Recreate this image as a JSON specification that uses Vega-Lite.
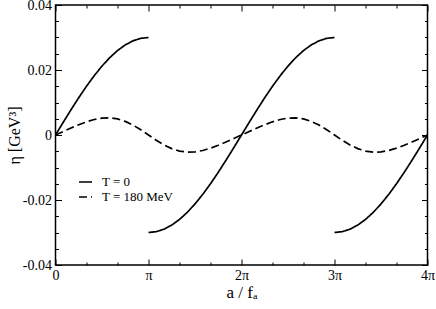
{
  "$schema": "https://vega.github.io/schema/vega-lite/v6.json",
  "width": 372,
  "height": 260,
  "autosize": {"type": "none"},
  "padding": {"left": 55.5, "top": 5, "right": 8, "bottom": 44},
  "background": "white",
  "config": {
    "view": {"stroke": "black", "strokeWidth": 1.5},
    "font": "Liberation Serif, Times New Roman, serif",
    "axis": {"grid": false, "domain": false, "tickColor": "black", "tickWidth": 1, "labelColor": "black", "titleColor": "black", "labelFont": "Liberation Serif, Times New Roman, serif", "titleFont": "Liberation Serif, Times New Roman, serif", "titleFontWeight": "normal", "labelOverlap": false, "labelFlush": false, "labelBound": false},
    "legend": {"labelFont": "Liberation Serif, Times New Roman, serif"}
  },
  "data": {"values": [
    {"x": 0, "y": 0, "s": "T = 0", "g": "a"},
    {"x": 0.083333, "y": 0.003916, "s": "T = 0", "g": "a"},
    {"x": 0.166667, "y": 0.007765, "s": "T = 0", "g": "a"},
    {"x": 0.25, "y": 0.01148, "s": "T = 0", "g": "a"},
    {"x": 0.333333, "y": 0.015, "s": "T = 0", "g": "a"},
    {"x": 0.416667, "y": 0.018263, "s": "T = 0", "g": "a"},
    {"x": 0.5, "y": 0.021213, "s": "T = 0", "g": "a"},
    {"x": 0.583333, "y": 0.023801, "s": "T = 0", "g": "a"},
    {"x": 0.666667, "y": 0.025981, "s": "T = 0", "g": "a"},
    {"x": 0.75, "y": 0.027716, "s": "T = 0", "g": "a"},
    {"x": 0.833333, "y": 0.028978, "s": "T = 0", "g": "a"},
    {"x": 0.916667, "y": 0.029743, "s": "T = 0", "g": "a"},
    {"x": 1, "y": 0.03, "s": "T = 0", "g": "a"},
    {"x": 1, "y": -0.03, "s": "T = 0", "g": "b"},
    {"x": 1.083333, "y": -0.029743, "s": "T = 0", "g": "b"},
    {"x": 1.166667, "y": -0.028978, "s": "T = 0", "g": "b"},
    {"x": 1.25, "y": -0.027716, "s": "T = 0", "g": "b"},
    {"x": 1.333333, "y": -0.025981, "s": "T = 0", "g": "b"},
    {"x": 1.416667, "y": -0.023801, "s": "T = 0", "g": "b"},
    {"x": 1.5, "y": -0.021213, "s": "T = 0", "g": "b"},
    {"x": 1.583333, "y": -0.018263, "s": "T = 0", "g": "b"},
    {"x": 1.666667, "y": -0.015, "s": "T = 0", "g": "b"},
    {"x": 1.75, "y": -0.01148, "s": "T = 0", "g": "b"},
    {"x": 1.833333, "y": -0.007765, "s": "T = 0", "g": "b"},
    {"x": 1.916667, "y": -0.003916, "s": "T = 0", "g": "b"},
    {"x": 2, "y": 0, "s": "T = 0", "g": "b"},
    {"x": 2.083333, "y": 0.003916, "s": "T = 0", "g": "b"},
    {"x": 2.166667, "y": 0.007765, "s": "T = 0", "g": "b"},
    {"x": 2.25, "y": 0.01148, "s": "T = 0", "g": "b"},
    {"x": 2.333333, "y": 0.015, "s": "T = 0", "g": "b"},
    {"x": 2.416667, "y": 0.018263, "s": "T = 0", "g": "b"},
    {"x": 2.5, "y": 0.021213, "s": "T = 0", "g": "b"},
    {"x": 2.583333, "y": 0.023801, "s": "T = 0", "g": "b"},
    {"x": 2.666667, "y": 0.025981, "s": "T = 0", "g": "b"},
    {"x": 2.75, "y": 0.027716, "s": "T = 0", "g": "b"},
    {"x": 2.833333, "y": 0.028978, "s": "T = 0", "g": "b"},
    {"x": 2.916667, "y": 0.029743, "s": "T = 0", "g": "b"},
    {"x": 3, "y": 0.03, "s": "T = 0", "g": "b"},
    {"x": 3, "y": -0.03, "s": "T = 0", "g": "c"},
    {"x": 3.083333, "y": -0.029743, "s": "T = 0", "g": "c"},
    {"x": 3.166667, "y": -0.028978, "s": "T = 0", "g": "c"},
    {"x": 3.25, "y": -0.027716, "s": "T = 0", "g": "c"},
    {"x": 3.333333, "y": -0.025981, "s": "T = 0", "g": "c"},
    {"x": 3.416667, "y": -0.023801, "s": "T = 0", "g": "c"},
    {"x": 3.5, "y": -0.021213, "s": "T = 0", "g": "c"},
    {"x": 3.583333, "y": -0.018263, "s": "T = 0", "g": "c"},
    {"x": 3.666667, "y": -0.015, "s": "T = 0", "g": "c"},
    {"x": 3.75, "y": -0.01148, "s": "T = 0", "g": "c"},
    {"x": 3.833333, "y": -0.007765, "s": "T = 0", "g": "c"},
    {"x": 3.916667, "y": -0.003916, "s": "T = 0", "g": "c"},
    {"x": 4, "y": 0, "s": "T = 0", "g": "c"},
    {"x": 0, "y": 0, "s": "T = 180 MeV", "g": "d"},
    {"x": 0.083333, "y": 0.001086, "s": "T = 180 MeV", "g": "d"},
    {"x": 0.166667, "y": 0.00215, "s": "T = 180 MeV", "g": "d"},
    {"x": 0.25, "y": 0.003157, "s": "T = 180 MeV", "g": "d"},
    {"x": 0.333333, "y": 0.004053, "s": "T = 180 MeV", "g": "d"},
    {"x": 0.416667, "y": 0.004763, "s": "T = 180 MeV", "g": "d"},
    {"x": 0.5, "y": 0.0052, "s": "T = 180 MeV", "g": "d"},
    {"x": 0.583333, "y": 0.005283, "s": "T = 180 MeV", "g": "d"},
    {"x": 0.666667, "y": 0.004954, "s": "T = 180 MeV", "g": "d"},
    {"x": 0.75, "y": 0.004197, "s": "T = 180 MeV", "g": "d"},
    {"x": 0.833333, "y": 0.00305, "s": "T = 180 MeV", "g": "d"},
    {"x": 0.916667, "y": 0.001606, "s": "T = 180 MeV", "g": "d"},
    {"x": 1, "y": 0, "s": "T = 180 MeV", "g": "d"},
    {"x": 1.083333, "y": -0.001606, "s": "T = 180 MeV", "g": "d"},
    {"x": 1.166667, "y": -0.00305, "s": "T = 180 MeV", "g": "d"},
    {"x": 1.25, "y": -0.004197, "s": "T = 180 MeV", "g": "d"},
    {"x": 1.333333, "y": -0.004954, "s": "T = 180 MeV", "g": "d"},
    {"x": 1.416667, "y": -0.005283, "s": "T = 180 MeV", "g": "d"},
    {"x": 1.5, "y": -0.0052, "s": "T = 180 MeV", "g": "d"},
    {"x": 1.583333, "y": -0.004763, "s": "T = 180 MeV", "g": "d"},
    {"x": 1.666667, "y": -0.004053, "s": "T = 180 MeV", "g": "d"},
    {"x": 1.75, "y": -0.003157, "s": "T = 180 MeV", "g": "d"},
    {"x": 1.833333, "y": -0.00215, "s": "T = 180 MeV", "g": "d"},
    {"x": 1.916667, "y": -0.001086, "s": "T = 180 MeV", "g": "d"},
    {"x": 2, "y": 0, "s": "T = 180 MeV", "g": "d"},
    {"x": 2.083333, "y": 0.001086, "s": "T = 180 MeV", "g": "d"},
    {"x": 2.166667, "y": 0.00215, "s": "T = 180 MeV", "g": "d"},
    {"x": 2.25, "y": 0.003157, "s": "T = 180 MeV", "g": "d"},
    {"x": 2.333333, "y": 0.004053, "s": "T = 180 MeV", "g": "d"},
    {"x": 2.416667, "y": 0.004763, "s": "T = 180 MeV", "g": "d"},
    {"x": 2.5, "y": 0.0052, "s": "T = 180 MeV", "g": "d"},
    {"x": 2.583333, "y": 0.005283, "s": "T = 180 MeV", "g": "d"},
    {"x": 2.666667, "y": 0.004954, "s": "T = 180 MeV", "g": "d"},
    {"x": 2.75, "y": 0.004197, "s": "T = 180 MeV", "g": "d"},
    {"x": 2.833333, "y": 0.00305, "s": "T = 180 MeV", "g": "d"},
    {"x": 2.916667, "y": 0.001606, "s": "T = 180 MeV", "g": "d"},
    {"x": 3, "y": 0, "s": "T = 180 MeV", "g": "d"},
    {"x": 3.083333, "y": -0.001606, "s": "T = 180 MeV", "g": "d"},
    {"x": 3.166667, "y": -0.00305, "s": "T = 180 MeV", "g": "d"},
    {"x": 3.25, "y": -0.004197, "s": "T = 180 MeV", "g": "d"},
    {"x": 3.333333, "y": -0.004954, "s": "T = 180 MeV", "g": "d"},
    {"x": 3.416667, "y": -0.005283, "s": "T = 180 MeV", "g": "d"},
    {"x": 3.5, "y": -0.0052, "s": "T = 180 MeV", "g": "d"},
    {"x": 3.583333, "y": -0.004763, "s": "T = 180 MeV", "g": "d"},
    {"x": 3.666667, "y": -0.004053, "s": "T = 180 MeV", "g": "d"},
    {"x": 3.75, "y": -0.003157, "s": "T = 180 MeV", "g": "d"},
    {"x": 3.833333, "y": -0.00215, "s": "T = 180 MeV", "g": "d"},
    {"x": 3.916667, "y": -0.001086, "s": "T = 180 MeV", "g": "d"},
    {"x": 4, "y": 0, "s": "T = 180 MeV", "g": "d"}
  ]},
  "layer": [
    {
      "mark": {"type": "line", "color": "black", "strokeWidth": 1.7, "clip": true},
      "encoding": {
        "x": {"field": "x", "type": "quantitative", "scale": {"domain": [0, 4], "nice": false, "zero": false},
          "axis": {"orient": "bottom", "values": [0, 0.333333, 0.666667, 1, 1.333333, 1.666667, 2, 2.333333, 2.666667, 3, 3.333333, 3.666667, 4],
            "labelExpr": "abs(datum.value-round(datum.value))<0.01 ? (round(datum.value)==0 ? '0' : (round(datum.value)==1 ? 'π' : round(datum.value)+'π')) : ''",
            "tickSize": {"condition": {"test": "abs(datum.value-round(datum.value))<0.01", "value": -6}, "value": -3},
            "labelFont": "Liberation Serif, Times New Roman, serif", "labelFontSize": 14, "labelPadding": 9, "title": "a / fₐ", "titleFont": "Liberation Serif, Times New Roman, serif", "titleFontSize": 17, "titleY": 32, "titleBaseline": "alphabetic"}},
        "y": {"field": "y", "type": "quantitative", "scale": {"domain": [-0.04, 0.04], "nice": false, "zero": false},
          "axis": {"orient": "left", "values": [-0.04, -0.035, -0.03, -0.025, -0.02, -0.015, -0.01, -0.005, 0, 0.005, 0.01, 0.015, 0.02, 0.025, 0.03, 0.035, 0.04],
            "labelExpr": "abs(datum.value*50-round(datum.value*50))<0.01 ? (abs(datum.value)<1e-9 ? '0' : (datum.value<0 ? '-' : '') + format(abs(datum.value), '.2f')) : ''",
            "tickSize": {"condition": {"test": "abs(datum.value*50-round(datum.value*50))<0.01", "value": -6}, "value": -3},
            "labelFont": "Liberation Serif, Times New Roman, serif", "labelFontSize": 14, "labelPadding": 10, "title": "η [GeV³]", "titleFont": "Liberation Serif, Times New Roman, serif", "titleFontSize": 16, "titleX": -41, "titleBaseline": "middle"}},
        "strokeDash": {"field": "s", "type": "nominal", "scale": {"domain": ["T = 0", "T = 180 MeV"], "range": [[1, 0], [8, 4]]},
          "legend": {"title": null, "orient": "none", "legendX": 22.5, "legendY": 169.5, "symbolType": "stroke", "symbolStrokeWidth": 1.7, "symbolSize": 169, "symbolStrokeColor": "black", "labelFontSize": 13, "labelFont": "Liberation Serif, Times New Roman, serif", "labelColor": "black", "rowPadding": 0, "labelOffset": 9, "padding": 0}},
        "detail": {"field": "g"}
      }
    },
    {
      "mark": {"type": "point", "opacity": 0},
      "encoding": {
        "x": {"field": "x", "type": "quantitative",
          "axis": {"orient": "top", "values": [0, 0.333333, 0.666667, 1, 1.333333, 1.666667, 2, 2.333333, 2.666667, 3, 3.333333, 3.666667, 4], "labels": false, "title": null,
            "tickSize": {"condition": {"test": "abs(datum.value-round(datum.value))<0.01", "value": -6}, "value": -3}}},
        "y": {"field": "y", "type": "quantitative",
          "axis": {"orient": "right", "values": [-0.04, -0.035, -0.03, -0.025, -0.02, -0.015, -0.01, -0.005, 0, 0.005, 0.01, 0.015, 0.02, 0.025, 0.03, 0.035, 0.04], "labels": false, "title": null,
            "tickSize": {"condition": {"test": "abs(datum.value*50-round(datum.value*50))<0.01", "value": -6}, "value": -3}}}
      }
    }
  ],
  "resolve": {"axis": {"x": "independent", "y": "independent"}}
}
